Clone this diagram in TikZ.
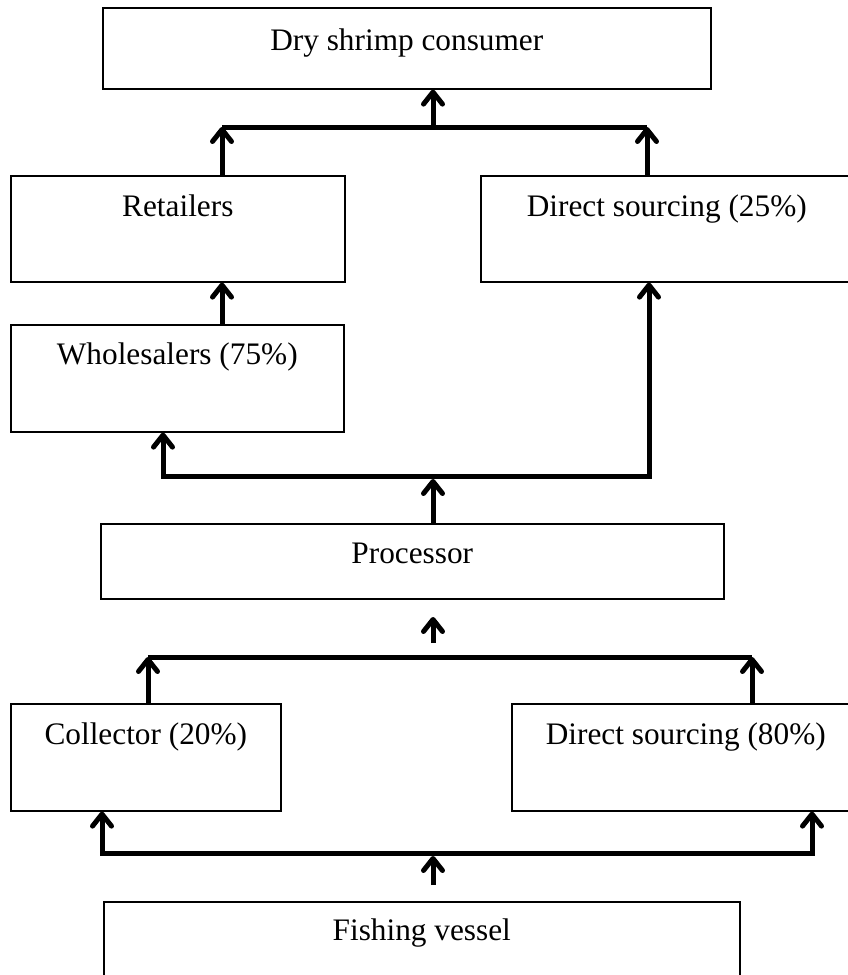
\documentclass[tikz,border=0pt]{standalone}
\usepackage{fontspec}
\setmainfont{Liberation Serif}
\usetikzlibrary{arrows.meta}
\begin{document}
\begin{tikzpicture}[x=1pt,y=-1pt,
  box/.style={draw, line width=1.6pt, anchor=north west, inner sep=0pt,
    font=\fontsize{31.3}{37}\selectfont},
  tip/.tip={Straight Barb[length=12pt,width=19pt,round]},
  flow/.style={line width=5pt, -tip},
  flowboth/.style={line width=5pt, tip-tip},
  bar/.style={line width=5pt}]
\useasboundingbox (0,0) rectangle (848,975);

% boxes
\node[box, minimum width=608pt, text height=43pt, text depth=38pt] (cons) at (102,7) {Dry shrimp consumer};
\node[box, minimum width=334pt, text height=41pt, text depth=65pt] (ret) at (10,175) {Retailers};
\node[box, minimum width=372pt, text height=41pt, text depth=65pt] (ds25) at (480,175) {Direct sourcing (25\%)};
\node[box, minimum width=333pt, text height=40pt, text depth=67pt] (whole) at (10,324) {Wholesalers (75\%)};
\node[box, minimum width=623pt, text height=40pt, text depth=35pt] (proc) at (100,523) {Processor};
\node[box, minimum width=270pt, text height=41pt, text depth=66pt] (coll) at (10,703) {Collector (20\%)};
\node[box, minimum width=348pt, text height=41pt, text depth=66pt] (ds80) at (511,703) {Direct sourcing (80\%)};
\node[box, minimum width=636pt, text height=39pt, text depth=68pt] (fish) at (103,901) {Fishing vessel};

% top junction
\coordinate (b1l) at (222,127);
\coordinate (b1m) at (433,127);
\coordinate (b1r) at (647,127);
\draw[bar] (b1l) -- (b1r);
\draw[flow] (b1m) -- (b1m |- cons.south);
\draw[flow] (b1l |- ret.north) -- (b1l);
\draw[flow] (b1r |- ds25.north) -- (b1r);
\draw[flow] (b1l |- whole.north) -- (b1l |- ret.south);

% processor split
\coordinate (c2l) at (163,476);
\coordinate (c2m) at (433,479);
\coordinate (c2r) at (649,476);
\draw[flowboth] (c2l |- whole.south) -- (c2l) -- (c2r) -- (c2r |- ds25.south);
\draw[flow] (c2m |- proc.north) -- (c2m);

% free arrow below processor
\coordinate (f1s) at (433,643);
\coordinate (f1e) at (433,617);
\draw[flow] (f1s) -- (f1e);

% second junction
\coordinate (b2l) at (148,657);
\coordinate (b2r) at (752,657);
\draw[bar] (b2l) -- (b2r);
\draw[flow] (b2l |- coll.north) -- (b2l);
\draw[flow] (b2r |- ds80.north) -- (b2r);

% bottom split
\coordinate (c3l) at (102,853);
\coordinate (c3r) at (812,853);
\draw[flowboth] (c3l |- coll.south) -- (c3l) -- (c3r) -- (c3r |- ds80.south);

% free arrow above fishing vessel
\coordinate (f2s) at (433,885);
\coordinate (f2e) at (433,856);
\draw[flow] (f2s) -- (f2e);
\end{tikzpicture}
\end{document}
